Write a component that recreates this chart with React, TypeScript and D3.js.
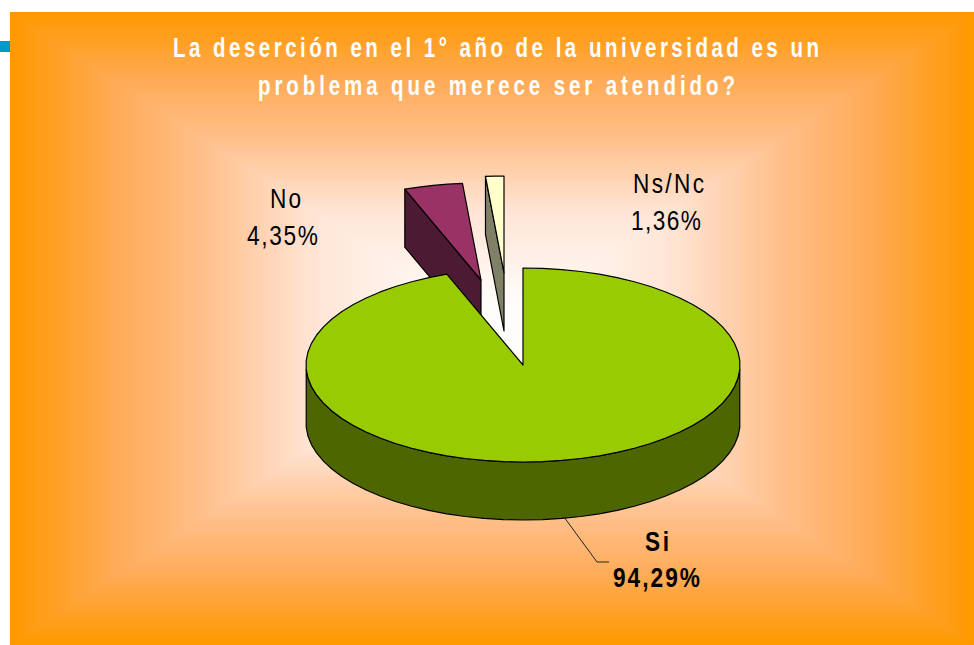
import React from "react";
import * as d3 from "d3";

const categories = ["Si", "No", "Ns/Nc"];
const values = [94.29, 4.35, 1.36];
const valueLabels = ["94,29%", "4,35%", "1,36%"];
const topColors = ["#99CC00", "#993366", "#FFFFCC"];
const sideColors = ["#4D6600", "#4D1A33", "#808066"];
const titleLines = [
  "La deserción en el 1° año de la universidad es un",
  "problema que merece ser atendido?",
];
const fadeStops = [0, 0.1, 0.38, 0.585, 0.79, 1];
const fadeColors = ["#FFFFFF", "#FFFBF8", "#FFE4D4", "#FFC290", "#FFAA55", "#FF9900"];

const W = 974, H = 645;
const bg = { x0: 10, y0: 12, x1: 974, y1: 645, cx: 492, cy: 328 };
const centre = { x: 523, y: 365 };
const rx = 217, ry = 97, depth = 58;
const offsets = [
  { dx: 0, dy: 0 },
  { dx: -42, dy: -85 },
  { dx: -19, dy: -92 },
];
const labelFont = "'Liberation Sans', Arial, sans-serif";

const pie = d3.pie<number>().sort(null).value((d) => d);
const arcs = pie(values);
const ellipseX = d3.scaleLinear().domain([-1, 1]).range([-rx, rx]);
const ellipseY = d3.scaleLinear().domain([-1, 1]).range([-ry, ry]);
const pt = (a: number): [number, number] => [ellipseX(Math.sin(a)), ellipseY(-Math.cos(a))];
const line = d3.line<[number, number]>();
const arcPoints = (a0: number, a1: number) => {
  const n = Math.max(2, Math.ceil(Math.abs(a1 - a0) * 11));
  return d3.range(n + 1).map((i) => pt(a0 + ((a1 - a0) * i) / n));
};

const fade = d3.scaleLinear<string>().domain(fadeStops).range(fadeColors).interpolate(d3.interpolateRgb);
const bands = d3.range(120, 0, -1).map((i) => i / 120);

function Slice({ i }: { i: number }) {
  const a = arcs[i];
  const { dx, dy } = offsets[i];
  const outer = arcPoints(a.startAngle, a.endAngle);
  const topPath = line([[0, 0], ...outer]) + "Z";
  const first = outer[0];
  const cutPath = line([[0, 0], first, [first[0], first[1] + depth], [0, depth]]) + "Z";
  const front = outer.filter((p) => p[1] >= 0);
  const rimPath = front.length
    ? line([...front, ...front.slice().reverse().map((p) => [p[0], p[1] + depth] as [number, number])]) + "Z"
    : null;
  return (
    <g transform={`translate(${centre.x + dx},${centre.y + dy})`} stroke="#000" strokeWidth={1.2} strokeLinejoin="round">
      {rimPath && <path d={rimPath} fill={sideColors[i]} />}
      {i > 0 && <path d={cutPath} fill={sideColors[i]} />}
      <path d={topPath} fill={topColors[i]} />
    </g>
  );
}

function Label({ x, y, w, text, bold, fill, size = 27, sx = 0.84 }: {
  x: number; y: number; w: number; text: string; bold?: boolean; fill?: string; size?: number; sx?: number;
}) {
  return (
    <text transform={`translate(${x},${y}) scale(${sx},1)`} textLength={w / sx} lengthAdjust="spacing"
      fontFamily={labelFont} fontSize={size} fontWeight={bold ? "bold" : "normal"} fill={fill ?? "#000"}>
      {text}
    </text>
  );
}

export default function App() {
  const { x0, y0, x1, y1, cx, cy } = bg;
  return (
    <svg width={W} height={H} style={{ position: "absolute", left: 0, top: 0, background: "#fff" }}>
      <rect x={0} y={41} width={12} height={11} fill="#0099CC" />
      <g shapeRendering="crispEdges">
        {bands.map((t) => (
          <rect key={t} x={cx + (x0 - cx) * t} y={cy + (y0 - cy) * t}
            width={(x1 - x0) * t} height={(y1 - y0) * t} fill={fade(t)} />
        ))}
      </g>

      <Label x={173} y={57} w={646} text={titleLines[0]} bold fill="#fff" sx={0.76} />
      <Label x={258} y={95} w={477} text={titleLines[1]} bold fill="#fff" sx={0.76} />

      <Slice i={2} />
      <Slice i={1} />
      <Slice i={0} />

      <polyline points="564,517 597,562 609,562" fill="none" stroke="#222" strokeWidth={1} />

      <Label x={270} y={208} w={31} text={categories[1]} />
      <Label x={247} y={245} w={71} text={valueLabels[1]} />
      <Label x={633} y={193} w={71} text={categories[2]} />
      <Label x={631} y={230} w={70} text={valueLabels[2]} />
      <Label x={645} y={551} w={24} text={categories[0]} bold />
      <Label x={613} y={587} w={87} text={valueLabels[0]} bold />
    </svg>
  );
}
